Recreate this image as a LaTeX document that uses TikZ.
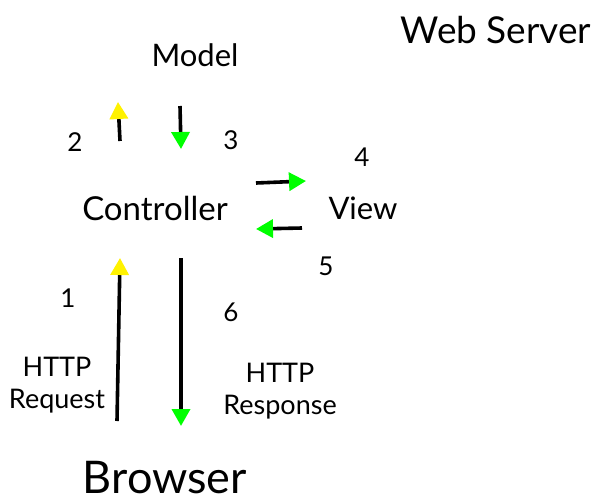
\documentclass[tikz,border=0pt]{standalone}
\usepackage{fontspec}
\setmainfont{Lato}
\usetikzlibrary{arrows.meta}
\tikzset{
  lbl/.style={inner sep=0pt, font=\fontsize{31}{36}\selectfont},
  num/.style={inner sep=0pt, font=\fontsize{26}{30}\selectfont},
  small/.style={inner sep=0pt, align=center, font=\fontsize{27}{32}\selectfont},
  flow/.style={line width=3.6pt, black, shorten >=0pt},
  upflow/.style={flow, -{Triangle[length=17pt,width=18pt,color=yellow]}},
  dnflow/.style={flow, -{Triangle[length=17pt,width=18pt,color=green]}},
}
\begin{document}
\begin{tikzpicture}[x=1pt,y=-1pt]
\useasboundingbox (0,0) rectangle (602,503);
\fill[white] (0,0) rectangle (602,503);

\node[inner sep=0pt, font=\fontsize{37}{42}\selectfont] (server) at (496,30) {Web Server};
\node[lbl] (model) at (195,55) {Model};
\node[lbl, font=\fontsize{33}{38}\selectfont] (ctrl) at (155,208) {Controller};
\node[lbl] (view) at (363,208) {View};
\node[inner sep=0pt, anchor=base, font=\fontsize{45}{50}\selectfont] (browser) at (165,493) {Browser};

\node[num] (n2) at (75,142) {2};
\node[num] (n3) at (231,140) {3};
\node[num] (n4) at (362,157) {4};
\node[num] (n5) at (326,266) {5};
\node[num] (n1) at (68,298) {1};
\node[num] (n6) at (231,312) {6};

\node[small] (req) at (57,385) {HTTP\\Request};
\node[small] (resp) at (280,391) {HTTP\\Response};

% arrow ends
\coordinate (a2s) at (120,141);
\coordinate (a2e) at (118,102);
\coordinate (a3s) at (180,106);
\coordinate (a3e) at (181,149);
\coordinate (a4s) at (256,183);
\coordinate (a4e) at (306,181);
\coordinate (a5s) at (302,228);
\coordinate (a5e) at (256,229);
\coordinate (a1s) at (117,421);
\coordinate (a1e) at (120,258);
\coordinate (a6s) at (181,258);
\coordinate (a6e) at (181,426);

\draw[upflow] (a2s) -- (a2e);
\draw[dnflow] (a3s) -- (a3e);
\draw[dnflow] (a4s) -- (a4e);
\draw[dnflow] (a5s) -- (a5e);
\draw[upflow] (a1s) -- (a1e);
\draw[dnflow] (a6s) -- (a6e);
\end{tikzpicture}
\end{document}
